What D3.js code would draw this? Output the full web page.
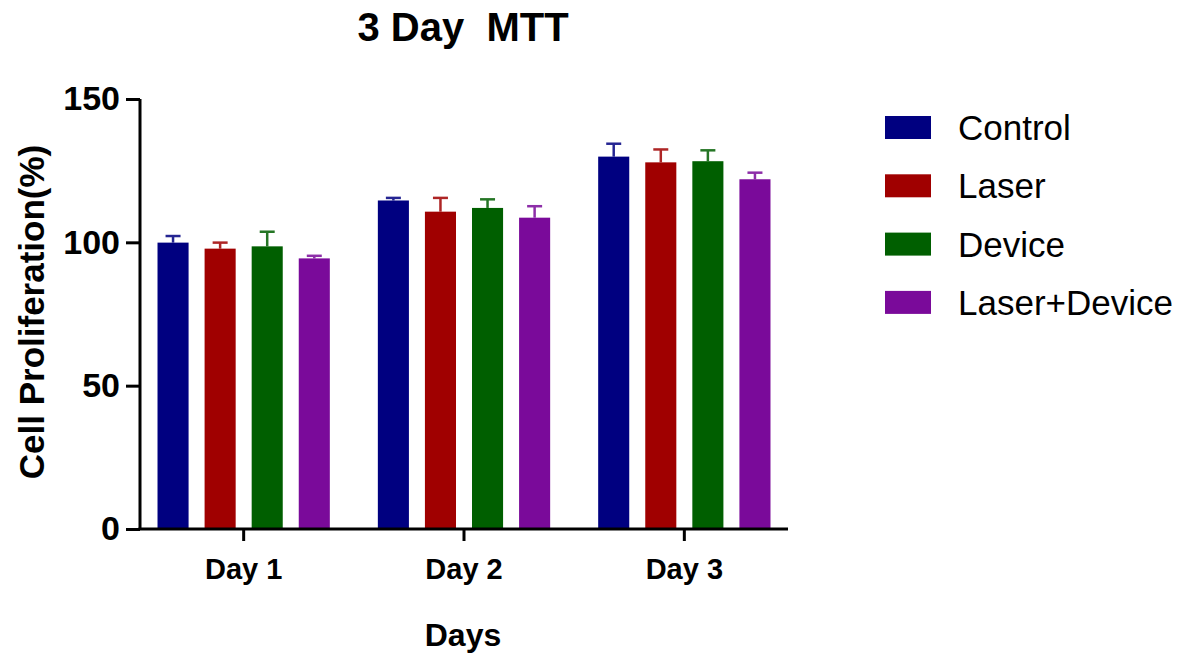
<!DOCTYPE html>
<html>
<head>
<meta charset="utf-8">
<script src="https://cdn.jsdelivr.net/npm/d3@7"></script>
<style>
  body { margin: 0; background: #fff; }
  text { font-family: Arial, "Liberation Sans", Helvetica, sans-serif; }
</style>
</head>
<body>
<div id="chart"></div>
<script>
  // values (mean and top of the error bar)
  const days = ["Day 1", "Day 2", "Day 3"];
  const groups = ["Control", "Laser", "Device", "Laser+Device"];
  const colors = ["#000080", "#a00000", "#005f00", "#7a0a9a"];
  const control = [99.9, 114.6, 129.9];
  const laser = [97.8, 110.7, 127.9];
  const device = [98.6, 112.0, 128.3];
  const laserDevice = [94.4, 108.6, 122.0];
  const controlErr = [2.3, 0.9, 4.5];
  const laserErr = [2.1, 4.8, 4.5];
  const deviceErr = [5.1, 3.0, 3.8];
  const laserDeviceErr = [0.9, 4.0, 2.3];
  const yTicks = [0, 50, 100, 150];

  let means = [control, laser, device, laserDevice];
  let errs = [controlErr, laserErr, deviceErr, laserDeviceErr];

  let width = 1182, height = 657;

  let svg = d3.select("#chart").append("svg")
    .attr("width", width)
    .attr("height", height);

  let y = d3.scaleLinear().domain([0, 150]).range([529, 99]);
  let x = d3.scaleBand().domain(days).range([133.5, 794.5]);
  let xSub = d3.scaleBand().domain(groups).range([0, x.bandwidth()])
    .paddingInner(0.34).paddingOuter(0.51);

  let rows = [];
  days.forEach((day, i) => {
    groups.forEach((g, j) => {
      rows.push({ day: day, group: g, color: colors[j], value: means[j][i], err: errs[j][i] });
    });
  });

  // bars
  svg.append("g").selectAll("rect")
    .data(rows)
    .enter().append("rect")
    .attr("x", (d) => x(d.day) + xSub(d.group))
    .attr("y", (d) => y(d.value))
    .attr("width", xSub.bandwidth())
    .attr("height", (d) => y(0) - y(d.value))
    .attr("fill", (d) => d.color);

  // error bars (upper only)
  let eb = svg.append("g").selectAll("g")
    .data(rows)
    .enter().append("g")
    .attr("stroke", (d) => d.color)
    .attr("stroke-width", 2.5)
    .attr("opacity", 0.85);
  eb.append("line")
    .attr("x1", (d) => x(d.day) + xSub(d.group) + xSub.bandwidth() / 2)
    .attr("x2", (d) => x(d.day) + xSub(d.group) + xSub.bandwidth() / 2)
    .attr("y1", (d) => y(d.value))
    .attr("y2", (d) => y(d.value + d.err));
  eb.append("line")
    .attr("x1", (d) => x(d.day) + xSub(d.group) + xSub.bandwidth() / 2 - 7.5)
    .attr("x2", (d) => x(d.day) + xSub(d.group) + xSub.bandwidth() / 2 + 7.5)
    .attr("y1", (d) => y(d.value + d.err))
    .attr("y2", (d) => y(d.value + d.err));

  // y axis
  let yAxis = svg.append("g")
    .attr("transform", "translate(140,0)")
    .call(d3.axisLeft(y).tickValues(yTicks).tickSize(14).tickPadding(6));
  yAxis.select(".domain").attr("stroke-width", 3).attr("d", "M0," + y(150) + "V" + y(0));
  yAxis.selectAll(".tick line").attr("stroke-width", 3);
  yAxis.selectAll(".tick text")
    .attr("font-size", 34).attr("font-weight", "bold").attr("fill", "#000");

  // x axis
  let xAxis = svg.append("g")
    .attr("transform", "translate(0," + y(0) + ")")
    .call(d3.axisBottom(x).tickSize(12).tickPadding(17));
  xAxis.select(".domain").attr("stroke-width", 3).attr("d", "M138.5,0H788");
  xAxis.selectAll(".tick line").attr("stroke-width", 3);
  xAxis.selectAll(".tick text")
    .attr("font-size", 29).attr("font-weight", "bold").attr("fill", "#000");

  // titles
  svg.append("text")
    .attr("x", 463).attr("y", 41)
    .attr("text-anchor", "middle")
    .attr("font-size", 40).attr("font-weight", "bold")
    .style("white-space", "pre")
    .text("3 Day  MTT");

  svg.append("text")
    .attr("x", 463).attr("y", 646)
    .attr("text-anchor", "middle")
    .attr("font-size", 32).attr("font-weight", "bold")
    .text("Days");

  svg.append("text")
    .attr("transform", "translate(44,312) rotate(-90)")
    .attr("text-anchor", "middle")
    .attr("font-size", 35).attr("font-weight", "bold")
    .text("Cell Proliferation(%)");

  // legend
  let legend = svg.append("g").selectAll("g")
    .data(groups)
    .enter().append("g")
    .attr("transform", (d, i) => "translate(885," + (116 + i * 58.3) + ")");
  legend.append("rect")
    .attr("width", 46).attr("height", 23)
    .attr("fill", (d, i) => colors[i]);
  legend.append("text")
    .attr("x", 73).attr("y", 24)
    .attr("font-size", 35)
    .text((d) => d);
</script>
</body>
</html>
